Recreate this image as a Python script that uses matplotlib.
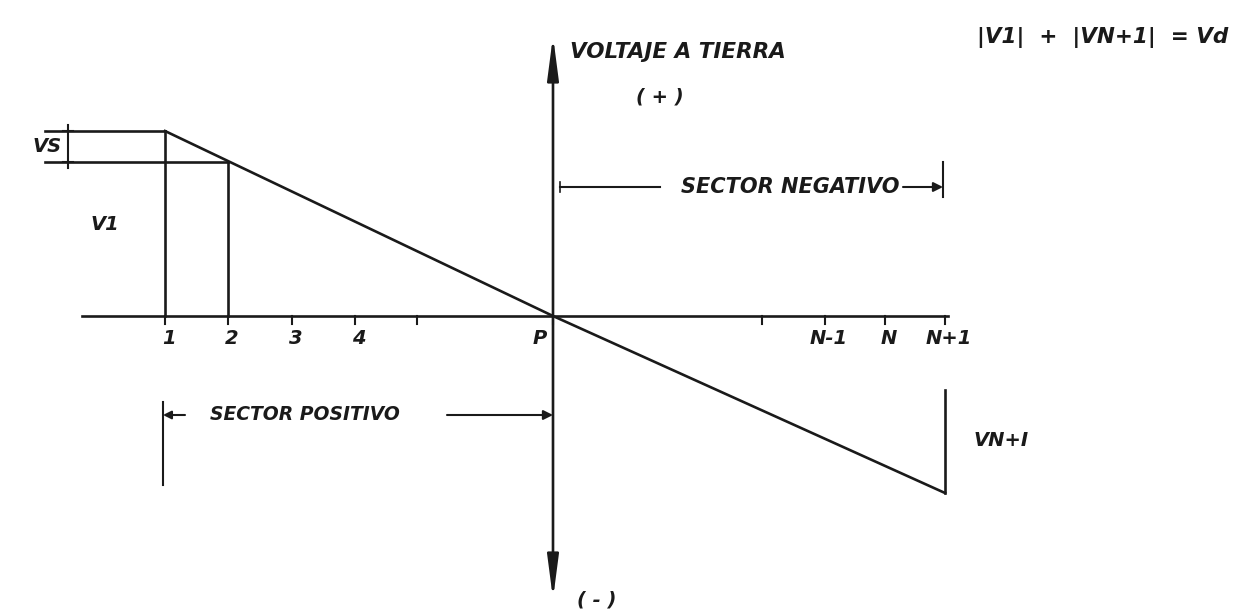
import matplotlib.pyplot as plt

# diagram units: 1 unit = 1 px, origin at node P on the ground line
node_labels = ["1", "2", "3", "4", "", "P", "", "N-1", "N", "N+1"]
node_x = [-388, -325, -261, -198, -136, 0, 209, 272, 332, 392]

# voltage to ground along the line
profile_x = [-388, 0, 392]
profile_v = [185, 0, -177]
v_node2 = 154          # voltage at node 2
vn1_top = -74          # top of the VN+1 marker

INK = "#1a1a1a"
FONT = dict(family="DejaVu Sans", fontweight="bold", fontstyle="italic", color=INK)

fig = plt.figure(figsize=(12.42, 6.11), dpi=100)
ax = fig.add_axes([0, 0, 1, 1])
ax.set_xlim(-553, 689)
ax.set_ylim(-295, 316)
ax.axis("off")

lw = 1.9

# ground line and ticks
ax.plot([-471, 395], [0, 0], color=INK, lw=lw)
for x in node_x:
    ax.plot([x, x], [0, -8], color=INK, lw=1.5)
for x, lab in zip(node_x, node_labels):
    if lab == "P":
        ax.text(x - 13, -23, lab, ha="center", va="center", fontsize=14, **FONT)
    elif lab:
        ax.text(x + 4, -23, lab, ha="center", va="center", fontsize=14, **FONT)

# voltage axis with arrows
ax.annotate("", xy=(0, 280), xytext=(0, -283),
            arrowprops=dict(arrowstyle="<|-|>, head_width=0.17, head_length=1.3",
                            lw=lw, color=INK, mutation_scale=20,
                            shrinkA=0, shrinkB=0))

# voltage profile
ax.plot(profile_x, profile_v, color=INK, lw=lw)

# node verticals and reference levels
ax.plot([node_x[0], node_x[0]], [0, profile_v[0]], color=INK, lw=lw)
ax.plot([node_x[1], node_x[1]], [0, v_node2], color=INK, lw=lw)
ax.plot([-508, node_x[0]], [profile_v[0], profile_v[0]], color=INK, lw=lw)
ax.plot([-508, node_x[1]], [v_node2, v_node2], color=INK, lw=lw)

# VS dimension
ax.plot([-485, -485], [profile_v[0] + 6, v_node2 - 6], color=INK, lw=1.5)
for y in (profile_v[0], v_node2):
    ax.plot([-490, -480], [y, y], color=INK, lw=1.5)
ax.text(-506, (profile_v[0] + v_node2) / 2, "VS", ha="center", va="center", fontsize=14, **FONT)
ax.text(-448, 91, "V1", ha="center", va="center", fontsize=14, **FONT)

# VN+1 marker
ax.plot([profile_x[-1], profile_x[-1]], [profile_v[-1], vn1_top], color=INK, lw=lw)
ax.text(421, -124, "VN+I", ha="left", va="center", fontsize=14, **FONT)

# sector negativo
yneg = 129
ax.plot([7, 7], [yneg + 5, yneg - 5], color=INK, lw=1.2)
ax.plot([7, 107], [yneg, yneg], color=INK, lw=1.5)
ax.text(128, yneg, "SECTOR NEGATIVO", ha="left", va="center", fontsize=15, **FONT)
ax.annotate("", xy=(390, yneg), xytext=(350, yneg),
            arrowprops=dict(arrowstyle="-|>", lw=1.5, color=INK,
                            mutation_scale=14, shrinkA=0, shrinkB=0))
ax.plot([390, 390], [154, 119], color=INK, lw=1.5)

# sector positivo
ypos = -99
ax.plot([-390, -390], [-86, -169], color=INK, lw=1.5)
ax.annotate("", xy=(-390, ypos), xytext=(-368, ypos),
            arrowprops=dict(arrowstyle="-|>", lw=1.5, color=INK,
                            mutation_scale=12, shrinkA=0, shrinkB=0))
ax.text(-343, ypos, "SECTOR POSITIVO", ha="left", va="center", fontsize=13.5, **FONT)
ax.annotate("", xy=(0, ypos), xytext=(-106, ypos),
            arrowprops=dict(arrowstyle="-|>", lw=1.5, color=INK,
                            mutation_scale=14, shrinkA=0, shrinkB=0))

# axis labels
ax.text(17, 264, "VOLTAJE A TIERRA", ha="left", va="center", fontsize=15.5, **FONT)
ax.text(107, 219, "( + )", ha="center", va="center", fontsize=14, **FONT)
ax.text(44, -284, "( - )", ha="center", va="center", fontsize=14, **FONT)

# relation
ax.text(675, 279, "|V1|  +  |VN+1|  = Vd", ha="right", va="center", fontsize=15.5, **FONT)

fig.savefig("out.png", dpi=100, facecolor="white")
